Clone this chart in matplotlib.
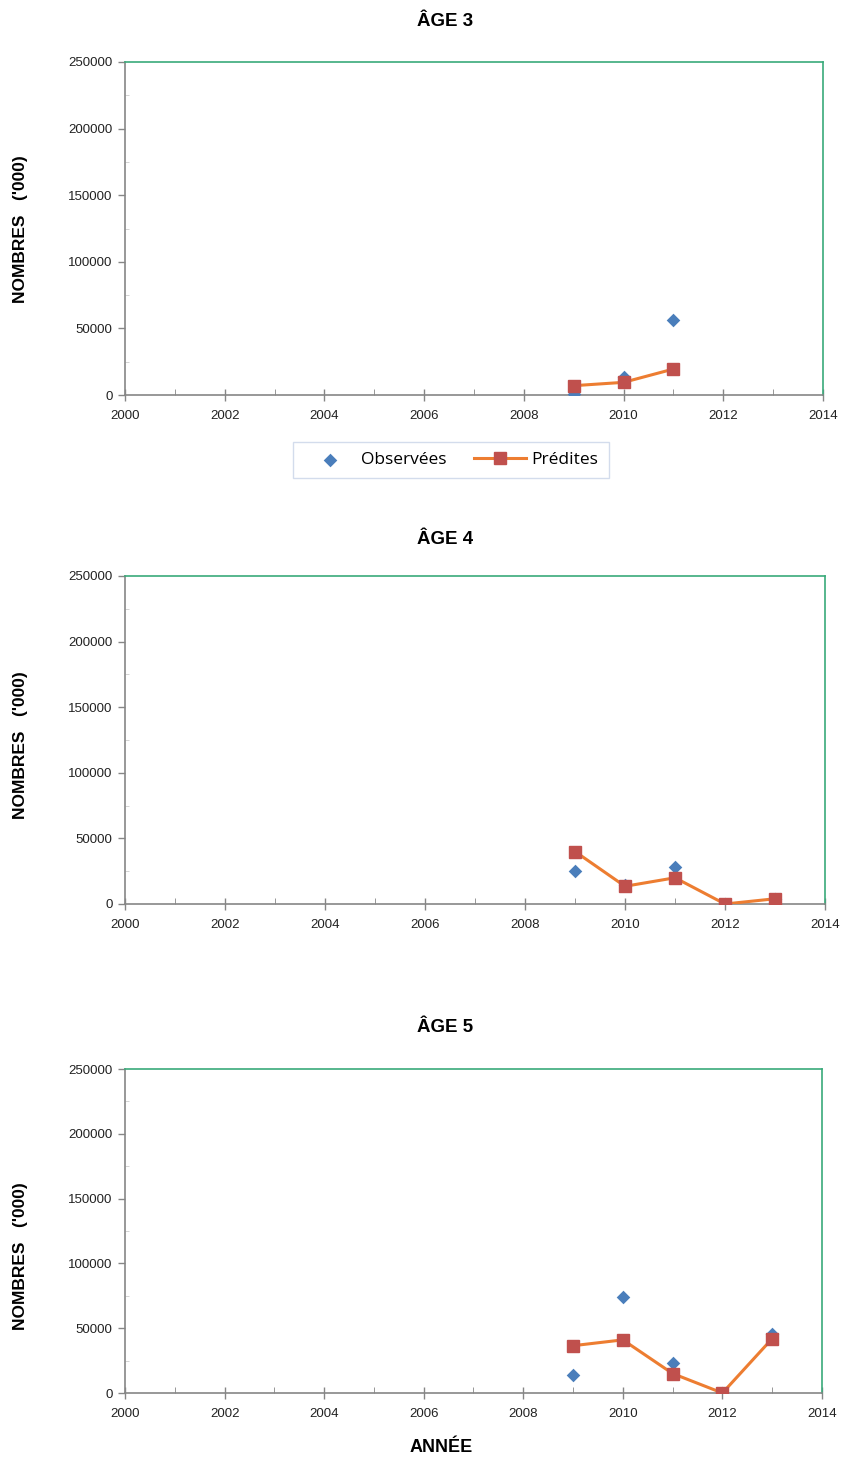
import matplotlib
matplotlib.use("Agg")
import matplotlib.pyplot as plt
from matplotlib.ticker import MultipleLocator

plt.rcParams['font.family'] = ['Liberation Sans', 'DejaVu Sans']

titles = ["ÂGE 3", "ÂGE 4", "ÂGE 5"]
years_obs = [[2009, 2010, 2011], [2009, 2010, 2011, 2012, 2013], [2009, 2010, 2011, 2012, 2013]]
obs_vals = [[1000, 13500, 56000], [25000, 14500, 28000, 0, 4000], [14000, 74000, 23000, 0, 45500]]
years_pred = [[2009, 2010, 2011], [2009, 2010, 2011, 2012, 2013], [2009, 2010, 2011, 2012, 2013]]
pred_vals = [[7000, 9500, 19500], [40000, 13500, 20000, 0, 4000], [36500, 41000, 15000, 0, 42000]]
xticks = [2000, 2002, 2004, 2006, 2008, 2010, 2012, 2014]
yticks = [0, 50000, 100000, 150000, 200000, 250000]

W, H = 844, 1458
fig = plt.figure(figsize=(W / 100, H / 100), dpi=100)

# axes boxes in pixels: left, right, top, bottom
boxes = [(125, 823, 62, 395), (125, 825, 576, 904), (125, 822, 1069, 1393)]
title_y = [22, 540, 1028]
ylab_y = [229, 745, 1256]

obs_color = '#4A7EBB'
line_color = '#ED7D31'
sq_color = '#C0504D'
gray = '#868686'
green = '#3AAA7A'

for i in range(3):
    l, r, t, b = boxes[i]
    ax = fig.add_axes([l / W, 1 - b / H, (r - l) / W, (b - t) / H])
    ax.scatter(years_obs[i], obs_vals[i], marker='D', s=48, color=obs_color, zorder=3,
               label='Observées', linewidths=0)
    ax.plot(years_pred[i], pred_vals[i], color=line_color, lw=2.2, marker='s', ms=8.5,
            markerfacecolor=sq_color, markeredgecolor=sq_color, zorder=4, label='Prédites')
    ax.set_xlim(2000, 2014)
    ax.set_ylim(0, 250000)
    ax.set_xticks(xticks)
    ax.set_yticks(yticks)
    ax.xaxis.set_minor_locator(MultipleLocator(1))
    ax.yaxis.set_minor_locator(MultipleLocator(25000))
    ax.tick_params(axis='both', which='major', labelsize=9.5, color=gray, length=5, width=1,
                   labelcolor='#222222')
    ax.tick_params(axis='x', which='major', direction='inout', length=8, pad=7)
    ax.tick_params(axis='y', which='major', direction='out', length=5, pad=4)
    ax.tick_params(axis='x', which='minor', direction='in', length=4, color=gray)
    ax.tick_params(axis='y', which='minor', direction='in', length=3, color='#CCCCCC')
    for s in ['left', 'bottom']:
        ax.spines[s].set_color(gray)
        ax.spines[s].set_linewidth(1.2)
    for s in ['top', 'right']:
        ax.spines[s].set_color(green)
        ax.spines[s].set_linewidth(1.2)
    fig.text(445 / W, 1 - title_y[i] / H, titles[i], ha='center', va='center',
             fontsize=13.5, fontweight='bold')
    fig.text(21 / W, 1 - ylab_y[i] / H, "NOMBRES   ('000)", ha='center', va='center',
             rotation=90, fontsize=12.5, fontweight='bold')
    if i == 0:
        leg = fig.legend(*ax.get_legend_handles_labels(), loc='center',
                         bbox_to_anchor=(451 / W, 1 - 460 / H), ncol=2, frameon=True,
                         fancybox=False, handlelength=3.0, columnspacing=1.6,
                         handletextpad=0.3, borderpad=0.6, borderaxespad=0,
                         prop={'family': ['Open Sans', 'DejaVu Sans'], 'size': 12.5})
        leg.get_frame().set_edgecolor('#C8D4E8')
        leg.get_frame().set_linewidth(1)

fig.text(441 / W, 1 - 1447 / H, "ANNÉE", ha='center', va='center', fontsize=13,
         fontweight='bold')

fig.savefig('out.png', dpi=100)
